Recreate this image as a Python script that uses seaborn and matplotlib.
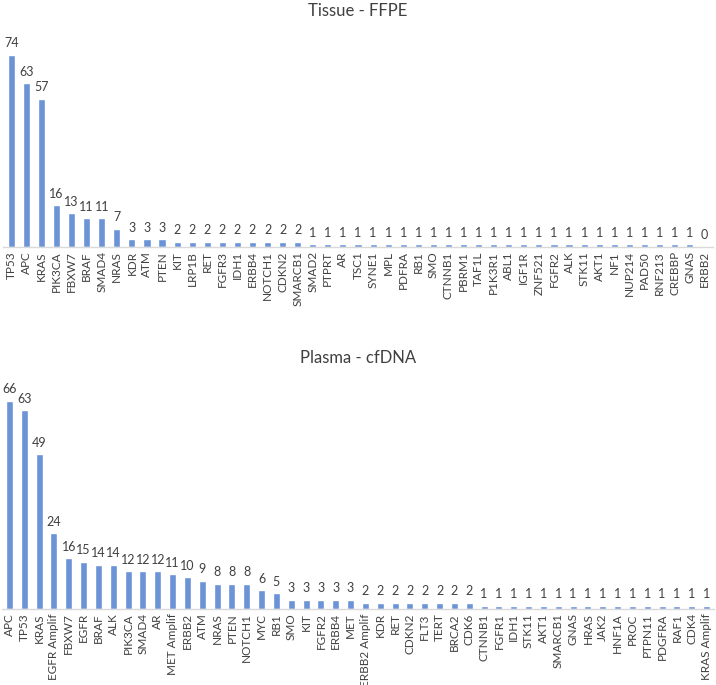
import matplotlib
matplotlib.use("Agg")
import matplotlib.pyplot as plt
import seaborn as sns
import pandas as pd

tissue_genes = ["TP53", "APC", "KRAS", "PIK3CA", "FBXW7", "BRAF", "SMAD4", "NRAS", "KDR", "ATM",
                "PTEN", "KIT", "LRP1B", "RET", "FGFR3", "IDH1", "ERBB4", "NOTCH1", "CDKN2", "SMARCB1",
                "SMAD2", "PTPRT", "AR", "TSC1", "SYNE1", "MPL", "PDFRA", "RB1", "SMO", "CTNNB1",
                "PBRM1", "TAF1L", "P1K3R1", "ABL1", "IGF1R", "ZNF521", "FGFR2", "ALK", "STK11", "AKT1",
                "NF1", "NUP214", "PAD50", "RNF213", "CREBBP", "GNAS", "ERBB2"]
tissue_counts = [74, 63, 57, 16, 13, 11, 11, 7, 3, 3,
                 3, 2, 2, 2, 2, 2, 2, 2, 2, 2,
                 1, 1, 1, 1, 1, 1, 1, 1, 1, 1,
                 1, 1, 1, 1, 1, 1, 1, 1, 1, 1,
                 1, 1, 1, 1, 1, 1, 0]

plasma_genes = ["APC", "TP53", "KRAS", "EGFR Amplif", "FBXW7", "EGFR", "BRAF", "ALK", "PIK3CA", "SMAD4",
                "AR", "MET Amplif", "ERBB2", "ATM", "NRAS", "PTEN", "NOTCH1", "MYC", "RB1", "SMO",
                "KIT", "FGFR2", "ERBB4", "MET", "ERBB2 Amplif", "KDR", "RET", "CDKN2", "FLT3", "TERT",
                "BRCA2", "CDK6", "CTNNB1", "FGFR1", "IDH1", "STK11", "AKT1", "SMARCB1", "GNAS", "HRAS",
                "JAK2", "HNF1A", "PROC", "PTPN11", "PDGFRA", "RAF1", "CDK4", "KRAS Amplif"]
plasma_counts = [66, 63, 49, 24, 16, 15, 14, 14, 12, 12,
                 12, 11, 10, 9, 8, 8, 8, 6, 5, 3,
                 3, 3, 3, 3, 2, 2, 2, 2, 2, 2,
                 2, 2, 1, 1, 1, 1, 1, 1, 1, 1,
                 1, 1, 1, 1, 1, 1, 1, 1]

sns.set_style("white")
plt.rcParams['font.family'] = ['Lato', 'DejaVu Sans']

bar_color = "#6b93d6"
text_color = "#404040"

W, H = 716, 685
fig = plt.figure(figsize=(W / 100, H / 100), dpi=100)


def draw_panel(rect_px, genes, counts, ymax, xlim, title, title_y):
    left, top, right, bottom = rect_px
    ax = fig.add_axes([left / W, (H - bottom) / H, (right - left) / W, (bottom - top) / H])
    df = pd.DataFrame({"gene": genes, "count": counts})
    sns.barplot(data=df, x="gene", y="count", color=bar_color, saturation=1, width=0.47, ax=ax)
    ax.bar_label(ax.containers[0], padding=4, fontsize=9, color=text_color)
    ax.set_ylim(0, ymax)
    ax.set_xlim(*xlim)
    ax.set_xlabel("")
    ax.set_ylabel("")
    ax.set_yticks([])
    ax.tick_params(axis="x", length=0, pad=3, labelsize=8.5, labelcolor=text_color)
    plt.setp(ax.get_xticklabels(), rotation=90)
    for s in ["top", "left", "right"]:
        ax.spines[s].set_visible(False)
    ax.spines["bottom"].set_color("#d9d9d9")
    ax.spines["bottom"].set_linewidth(1)
    fig.text(0.5, 1 - title_y / H, title, ha="center", va="center", fontsize=12, color=text_color)
    return ax


draw_panel((3, 39, 713, 247), tissue_genes, tissue_counts, 80, (-0.55, 46.55), "Tissue - FFPE", 11)
draw_panel((2, 388, 714, 609), plasma_genes, plasma_counts, 70, (-0.5, 47.5), "Plasma - cfDNA", 358)

fig.savefig("out.png", dpi=100, facecolor="white")
